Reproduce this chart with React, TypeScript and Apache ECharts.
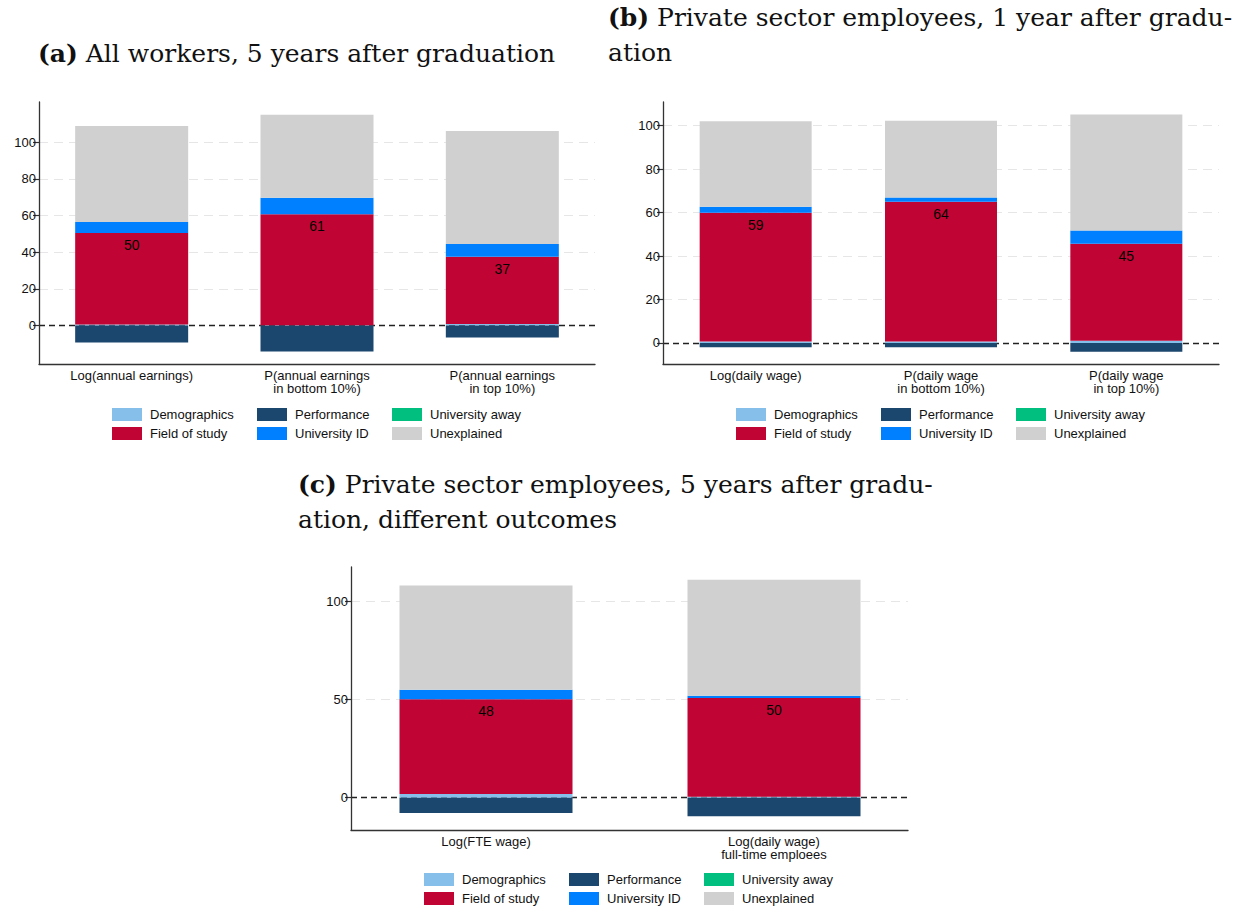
import React, { useEffect, useRef } from "react";
import * as echarts from "echarts";

// ---------- data ----------
const seriesNames = ["Demographics", "Performance", "University away", "Field of study", "University ID", "Unexplained"];
const seriesColors = ["#85BFEA", "#1B466E", "#00BF7F", "#C00535", "#0080FF", "#D0D0D0"];

const catsA = ["Log(annual earnings)", "P(annual earnings\nin bottom 10%)", "P(annual earnings\nin top 10%)"];
const demA = [0.5, 0.1, 0.8];
const perfA = [-9.3, -14.2, -6.5];
const awayA = [0, 0, 0];
const fieldA = [50.0, 60.6, 36.8];
const uidA = [6.0, 9.0, 6.9];
const unexA = [52.4, 45.3, 61.7];
const ticksA = [0, 20, 40, 60, 80, 100];

const catsB = ["Log(daily wage)", "P(daily wage\nin bottom 10%)", "P(daily wage\nin top 10%)"];
const demB = [0.6, 0.6, 1.0];
const perfB = [-2.0, -2.0, -4.1];
const awayB = [0, 0, 0];
const fieldB = [59.3, 64.4, 44.7];
const uidB = [2.8, 1.9, 6.0];
const unexB = [39.3, 35.4, 53.4];
const ticksB = [0, 20, 40, 60, 80, 100];

const catsC = ["Log(FTE wage)", "Log(daily wage)\nfull-time emploees"];
const demC = [1.9, 0.5];
const perfC = [-7.8, -9.5];
const awayC = [0, 0];
const fieldC = [48.3, 50.3];
const uidC = [4.9, 1.2];
const unexC = [53.1, 59.2];
const ticksC = [0, 50, 100];

const titleA = "{b|(a)} All workers, 5 years after graduation";
const titleB = "{b|(b)} Private sector employees, 1 year after gradu-\nation";
const titleC = "{b|(c)} Private sector employees, 5 years after gradu-\nation, different outcomes";

// ---------- helpers ----------
const SANS = "Liberation Sans, Arial, Helvetica, sans-serif";
const SERIF = "DejaVu Serif, Liberation Serif, serif";
const TXT = "#111";

function barSeries(idx: number, values: number[][], barWidth: number) {
  return values.map((vals, i) => {
    const s: any = {
      type: "bar",
      name: seriesNames[i],
      xAxisIndex: idx,
      yAxisIndex: idx,
      stack: "p" + idx,
      data: vals,
      barWidth,
      z: 2,
      itemStyle: { color: seriesColors[i] },
      emphasis: { disabled: true },
    };
    if (seriesNames[i] === "Field of study") {
      s.label = {
        show: true,
        position: "insideTop",
        distance: 5,
        fontSize: 14,
        fontFamily: SANS,
        color: "#000",
        formatter: (p: any) => String(Math.round(p.value)),
      };
    }
    return s;
  });
}

function refLines(idx: number, ticks: number[]) {
  const lines: any[] = ticks
    .filter((t) => t !== 0)
    .map((t) => ({ yAxis: t, lineStyle: { color: "#E6E6E6", type: [9, 6], width: 1 } }));
  lines.push({ yAxis: 0, lineStyle: { color: "#222", type: [6, 4], width: 1.3 } });
  return {
    type: "line",
    name: "ref" + idx,
    xAxisIndex: idx,
    yAxisIndex: idx,
    data: [],
    silent: true,
    z: 0,
    markLine: {
      silent: true,
      symbol: "none",
      z: 0,
      animation: false,
      label: { show: false },
      emphasis: { disabled: true },
      data: lines,
    },
  };
}

function xAxisOf(idx: number, cats: string[], showLine: boolean, showLabels: boolean) {
  return {
    type: "category",
    gridIndex: idx,
    data: cats,
    axisLine: { show: showLine, onZero: false, lineStyle: { color: "#333", width: 1.3 } },
    axisTick: { show: false },
    axisLabel: { show: showLabels, interval: 0, fontSize: 13, lineHeight: 13, margin: 5, color: TXT, fontFamily: SANS },
  };
}

function yAxisOf(idx: number, min: number, max: number, ticks: number[], visible: boolean) {
  return {
    type: "value",
    gridIndex: idx,
    min,
    max,
    show: visible,
    axisLine: { show: true, onZero: false, lineStyle: { color: "#333", width: 1.3 } },
    axisTick: { show: true, length: 6, customValues: ticks, lineStyle: { color: "#333", width: 1.2 } },
    axisLabel: { customValues: ticks, fontSize: 13, margin: 3, color: TXT, fontFamily: SANS },
    splitLine: { show: false },
  };
}

function legendsAt(x0: number, top: number) {
  const cols = [
    ["Demographics", "Field of study"],
    ["Performance", "University ID"],
    ["University away", "Unexplained"],
  ];
  const offs = [0, 145, 280];
  return cols.map((names, i) => ({
    orient: "vertical",
    left: x0 + offs[i],
    top,
    padding: 0,
    itemGap: 6,
    itemWidth: 30,
    itemHeight: 13,
    itemStyle: { borderWidth: 0 },
    selectedMode: false,
    data: names.map((n) => ({ name: n, icon: "rect" })),
    textStyle: { fontSize: 13, color: TXT, fontFamily: SANS, padding: [0, 0, 0, 3] },
  }));
}

function titleOf(text: string, left: number, top: number) {
  return {
    text,
    left,
    top,
    padding: 0,
    textStyle: {
      fontFamily: SERIF,
      fontSize: 25,
      fontWeight: "normal",
      color: TXT,
      lineHeight: 35,
      rich: {
        b: { fontFamily: SERIF, fontSize: 25, fontWeight: "bold", color: TXT, lineHeight: 35 },
      },
    },
  };
}

export default function App() {
  const ref = useRef<HTMLDivElement>(null);
  useEffect(() => {
    if (!ref.current) return;
    const chart = echarts.init(ref.current, undefined, { renderer: "svg" });
    const option: any = {
      animation: false,
      backgroundColor: "#fff",
      title: [titleOf(titleA, 38, 36), titleOf(titleB, 608, 0), titleOf(titleC, 298, 467)],
      grid: [
        { left: 39, top: 102, width: 556, height: 262 },
        { left: 663, top: 102, width: 556, height: 262 },
        // panel (c): bars laid out in a slightly wider band, frame/axes in the plot region
        { left: 342, top: 567, width: 576, height: 263 },
        { left: 351, top: 567, width: 557, height: 263 },
      ],
      xAxis: [
        xAxisOf(0, catsA, true, true),
        xAxisOf(1, catsB, true, true),
        xAxisOf(2, catsC, false, true),
        xAxisOf(3, catsC, true, false),
      ],
      yAxis: [
        yAxisOf(0, -21, 122, ticksA, true),
        yAxisOf(1, -9.7, 110.9, ticksB, true),
        yAxisOf(2, -16.5, 117.7, ticksC, false),
        yAxisOf(3, -16.5, 117.7, ticksC, true),
      ],
      legend: [...legendsAt(112, 408), ...legendsAt(736, 408), ...legendsAt(424, 873)],
      series: [
        ...barSeries(0, [demA, perfA, awayA, fieldA, uidA, unexA], 113),
        refLines(0, ticksA),
        ...barSeries(1, [demB, perfB, awayB, fieldB, uidB, unexB], 112),
        refLines(1, ticksB),
        ...barSeries(2, [demC, perfC, awayC, fieldC, uidC, unexC], 173),
        refLines(3, ticksC),
      ],
    };
    chart.setOption(option);
    return () => chart.dispose();
  }, []);
  return (
    <div
      ref={ref}
      style={{ position: "absolute", left: 0, top: 0, width: 1243, height: 909, background: "#fff" }}
    />
  );
}
